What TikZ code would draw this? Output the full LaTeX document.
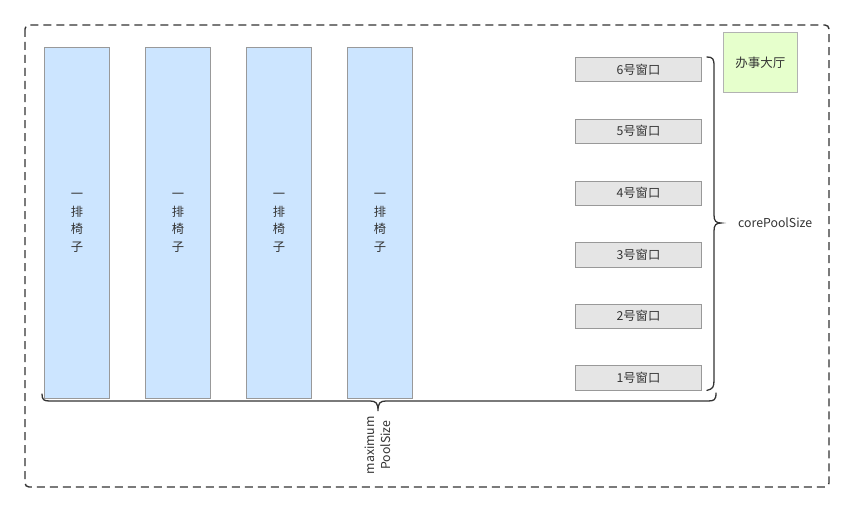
\documentclass[tikz,border=0pt]{standalone}
\usepackage{fontspec}
\setmainfont{Noto Sans CJK SC}
\begin{document}
\begin{tikzpicture}[x=1pt,y=-1pt,
  chair/.style={draw=black!40,fill=chairblue,line width=0.9pt,minimum width=65pt,minimum height=351pt,inner sep=0pt,anchor=north west,text=black!80,font=\fontsize{12.3}{17.5}\selectfont,align=center},
  win/.style={draw=black!40,fill=black!10,line width=0.9pt,minimum width=126pt,minimum height=24.5pt,inner sep=0pt,anchor=north west,text=black!80,font=\fontsize{12.3}{14}\selectfont},
  brace/.style={draw=black!80,line width=1.3pt,line cap=round},
  lbl/.style={text=black!80,font=\fontsize{12.3}{13}\selectfont,inner sep=0pt}]
\definecolor{chairblue}{HTML}{CCE5FF}
\definecolor{hallgreen}{HTML}{E6FFCC}
\useasboundingbox (0,0) rectangle (854,511);
\draw[black!80,line width=1.4pt,dash pattern=on 8pt off 5pt,rounded corners=4pt] (25,25) rectangle (829,487);
\node[chair] (c1) at (44,47) {一\\排\\椅\\子};
\node[chair] (c2) at (145,47) {一\\排\\椅\\子};
\node[chair] (c3) at (246,47) {一\\排\\椅\\子};
\node[chair] (c4) at (347,47) {一\\排\\椅\\子};
\node[win] (w6) at (575,57) {6号窗口};
\node[win] (w5) at (575,118.5) {5号窗口};
\node[win] (w4) at (575,180.5) {4号窗口};
\node[win] (w3) at (575,242) {3号窗口};
\node[win] (w2) at (575,303.5) {2号窗口};
\node[win] (w1) at (575,365) {1号窗口};
\node[draw=black!30,fill=hallgreen,line width=0.9pt,minimum width=74pt,minimum height=60pt,inner sep=0pt,anchor=north west,text=black!80,font=\fontsize{12.5}{14}\selectfont] (hall) at (723,32) {办事大厅};
% right brace
\coordinate (rb1) at ([xshift=5pt]w6.north east);
\coordinate (rb2) at ([xshift=5pt]w1.south east);
\draw[brace] (rb1) .. controls (713,57) and (714,59) .. (714,66) -- (714,215) .. controls (714,221) and (716,223) .. (721,223)
  .. controls (716,223) and (714,225) .. (714,231) -- (714,380) .. controls (714,387) and (713,389) .. (rb2);
\node[lbl,anchor=west] (cps) at (738,223) {corePoolSize};
% bottom brace
\draw[brace] (42,394) .. controls (42,400) and (44,401) .. (50,401) -- (370,401) .. controls (376,401) and (378,403) .. (378,411)
  .. controls (378,403) and (380,401) .. (386,401) -- (708,401) .. controls (714,401) and (716,400) .. (716,393);
\node[lbl,rotate=90,align=center,anchor=east,font=\fontsize{12.3}{15.5}\selectfont] (mps) at (378,416) {maximum\\PoolSize};
\end{tikzpicture}
\end{document}
